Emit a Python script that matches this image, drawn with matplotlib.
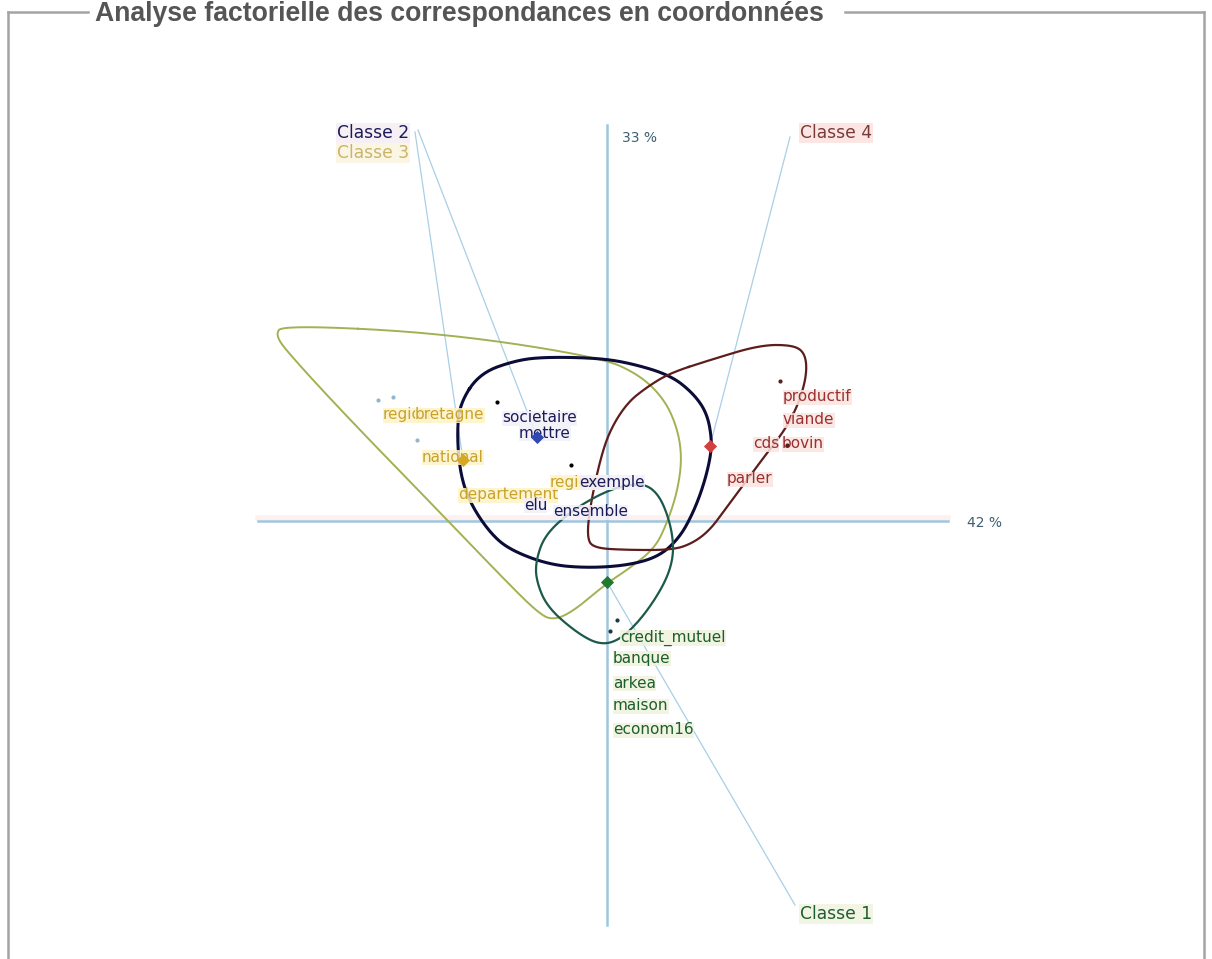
import numpy as np
import matplotlib
matplotlib.use('Agg')
import matplotlib.pyplot as plt

# factor coordinates (axis 1 = 42 %, axis 2 = 33 %)
class2_words = ['societaire', 'mettre', 'exemple', 'elu', 'ensemble']
class2_x = [-1.05, -0.88, -0.28, -0.83, -0.54]
class2_y = [1.03, 0.88, 0.39, 0.16, 0.09]
class2_dots_x = [-1.10, -0.36]
class2_dots_y = [1.19, 0.56]
class2_center = (-0.70, 0.84)

class3_words = ['region', 'bretagne', 'national', 'departement', 'regional']
class3_x = [-2.24, -1.92, -1.85, -1.49, -0.57]
class3_y = [1.06, 1.06, 0.64, 0.26, 0.39]
class3_dots_x = [-2.29, -2.14, -1.90]
class3_dots_y = [1.21, 1.24, 0.81]
class3_center = (-1.44, 0.61)

class4_words = ['productif', 'viande', 'cds', 'bovin', 'parler']
class4_x = [1.76, 1.76, 1.46, 1.75, 1.20]
class4_y = [1.24, 1.01, 0.77, 0.77, 0.42]
class4_dots_x = [1.73, 1.80]
class4_dots_y = [1.40, 0.76]
class4_center = (1.03, 0.75)

class1_words = ['credit_mutuel', 'banque', 'arkea', 'maison', 'econom16']
class1_x = [0.13, 0.06, 0.06, 0.06, 0.06]
class1_y = [-1.17, -1.37, -1.62, -1.85, -2.09]
class1_dots_x = [0.10, 0.03]
class1_dots_y = [-0.99, -1.10]
class1_center = (0.0, -0.61)

# class outlines
hull3 = [(-3.24, 1.96), (-1.64, 1.88), (-0.07, 1.64), (0.33, 1.46), (0.58, 1.21), (0.71, 0.91),
         (0.75, 0.61), (0.70, 0.28), (0.60, -0.02), (0.48, -0.27), (0.23, -0.47), (0.0, -0.62),
         (-0.32, -0.89), (-0.52, -0.99), (-0.67, -0.94), (-1.07, -0.54), (-1.50, -0.09),
         (-2.57, 1.01), (-3.17, 1.66), (-3.32, 1.86)]
hull2 = [(-1.47, 1.18), (-1.27, 1.48), (-0.90, 1.61), (-0.60, 1.64), (-0.10, 1.63), (0.23, 1.58),
         (0.63, 1.46), (0.86, 1.28), (1.00, 1.08), (1.05, 0.81), (1.03, 0.61), (0.96, 0.34),
         (0.86, 0.08), (0.73, -0.16), (0.53, -0.35), (0.23, -0.44), (-0.17, -0.47), (-0.57, -0.44),
         (-0.97, -0.29), (-1.17, -0.12), (-1.37, 0.18), (-1.47, 0.48), (-1.50, 0.88)]
hull4 = [(0.63, 1.48), (1.03, 1.61), (1.53, 1.76), (1.86, 1.76), (1.98, 1.68), (2.00, 1.48),
         (1.93, 1.21), (1.80, 0.94), (1.60, 0.68), (1.40, 0.41), (1.20, 0.14), (1.03, -0.09),
         (0.86, -0.22), (0.66, -0.29), (0.20, -0.29), (-0.14, -0.27), (-0.20, -0.16), (-0.17, 0.14),
         (-0.07, 0.61), (0.03, 0.91), (0.20, 1.18), (0.40, 1.34)]
hull1 = [(0.18, 0.36), (0.38, 0.37), (0.51, 0.27), (0.60, 0.08), (0.66, -0.16), (0.66, -0.39),
         (0.57, -0.64), (0.36, -0.96), (0.13, -1.19), (-0.07, -1.24), (-0.30, -1.12), (-0.60, -0.86),
         (-0.71, -0.59), (-0.71, -0.39), (-0.62, -0.14), (-0.37, 0.09), (-0.07, 0.27)]

class_names = ['Classe 2', 'Classe 3', 'Classe 4', 'Classe 1']
class_label_pos = [(-2.70, 3.88), (-2.70, 3.68), (1.93, 3.88), (1.93, -3.93)]
class_line_start = [(-1.89, 3.91), (-1.92, 3.89), (1.83, 3.84), (1.88, -3.84)]
class_centers = [class2_center, class3_center, class4_center, class1_center]

axis_pct = ['42 %', '33 %']

NAVY = '#1b1b5a'
GOLD = '#c9a22c'
RED = '#9a3030'
GREEN = '#1d5e2e'
AXIS = '#9ec6de'


def chaikin(pts, n=4):
    p = np.array(pts, dtype=float)
    for _ in range(n):
        q = np.roll(p, -1, axis=0)
        p = np.column_stack([0.75 * p + 0.25 * q, 0.25 * p + 0.75 * q]).reshape(-1, 2)
    return np.vstack([p, p[:1]])


fig = plt.figure(figsize=(12.12, 9.59), dpi=100)
ax = fig.add_axes([0, 0, 1, 1])
ax.set_xlim(-6.07, 6.05)
ax.set_ylim(-4.38, 5.21)
ax.axis('off')

# axes of the plane
ax.plot([-3.49, 3.41], [0.03, 0.03], color='#fdf1ef', lw=4, zorder=1)
ax.plot([-3.49, 3.41], [0, 0], color=AXIS, lw=1.8, zorder=2)
ax.plot([0, 0], [3.96, -4.04], color=AXIS, lw=1.8, zorder=2)
ax.text(3.60, -0.02, axis_pct[0], fontsize=10, color='#3d5f6e', va='center', ha='left')
ax.text(0.15, 3.83, axis_pct[1], fontsize=10, color='#3d5f6e', va='center', ha='left')

# outlines
for hull, col, lw in [(hull3, '#a3b152', 1.4), (hull2, '#0c0c38', 2.2),
                      (hull4, '#5e1d1d', 1.6), (hull1, '#1b5a4a', 1.6)]:
    c = chaikin(hull)
    ax.plot(c[:, 0], c[:, 1], color=col, lw=lw, zorder=3)

# connectors from class labels to class centres
for (sx, sy), (cx, cy) in zip(class_line_start, class_centers):
    ax.plot([sx, cx], [sy, cy], color='#a9cfe6', lw=0.9, zorder=2)

# words
groups = [
    (class3_words, class3_x, class3_y, GOLD, '#fdf3c8'),
    (class2_words, class2_x, class2_y, NAVY, '#f3f0f8'),
    (class4_words, class4_x, class4_y, RED, '#fbe4e0'),
    (class1_words, class1_x, class1_y, GREEN, '#eef3dc'),
]
for words, xs, ys, col, bg in groups:
    for w, x, y in zip(words, xs, ys):
        ax.text(x, y, w, fontsize=11, color=col, va='center', ha='left', zorder=5,
                bbox=dict(boxstyle='square,pad=0.0', fc=bg, ec='none', alpha=0.85))

label_cols = [NAVY, '#c9b468', '#7a3a3a', GREEN]
label_bg = ['#f6eef2', '#fbf6e2', '#fbe4e0', '#f2f4e2']
for name, (x, y), col, bg in zip(class_names, class_label_pos, label_cols, label_bg):
    ax.text(x, y, name, fontsize=12.3, color=col, va='center', ha='left', zorder=5,
            bbox=dict(boxstyle='square,pad=0.05', fc=bg, ec='none', alpha=0.9))

# points
for xs, ys, col in [(class2_dots_x, class2_dots_y, 'black'), (class3_dots_x, class3_dots_y, '#8fb8cc'),
                    (class4_dots_x, class4_dots_y, '#5a2020'), (class1_dots_x, class1_dots_y, '#1b3a40')]:
    ax.scatter(xs, ys, s=9, color=col, zorder=6, linewidths=0)

for (cx, cy), col in zip(class_centers, ['#3048b0', '#d6a820', '#d24040', '#1f7a30']):
    ax.scatter([cx], [cy], s=45, marker='D', color=col, zorder=6, linewidths=0)

# frame with title, like a fieldset
frame = fig.add_axes([0, 0, 1, 1], facecolor='none')
frame.set_xlim(0, 1212)
frame.set_ylim(959, 0)
frame.axis('off')
fcol = '#a4a4a4'
frame.plot([8, 88], [12, 12], color=fcol, lw=1.8)
frame.plot([845, 1204], [12, 12], color=fcol, lw=1.8)
frame.plot([8, 8], [12, 959], color=fcol, lw=1.8)
frame.plot([1204, 1204], [12, 959], color=fcol, lw=1.8)
frame.text(95, 14, 'Analyse factorielle des correspondances en coordonnées',
           fontsize=19.2, fontweight='bold', color='#555555', family='Liberation Sans',
           va='center', ha='left')

fig.savefig('out.png', dpi=100)
